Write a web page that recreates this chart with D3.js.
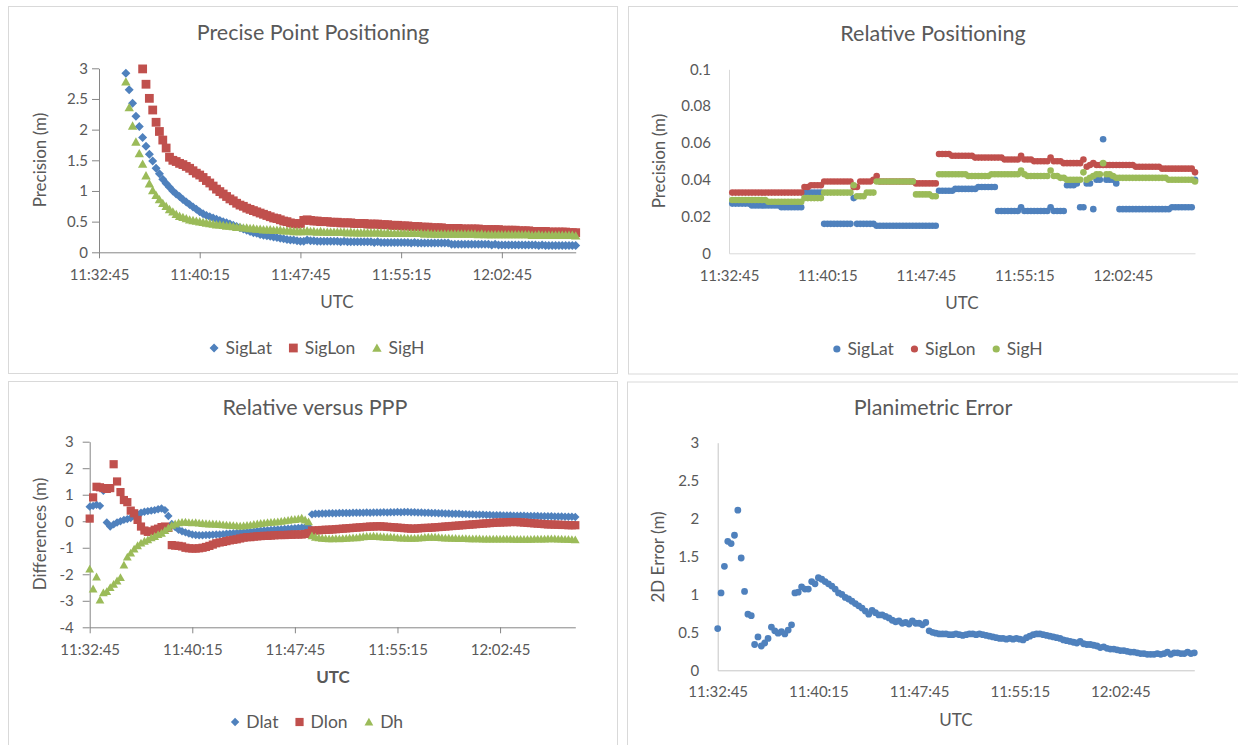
<!DOCTYPE html>
<html><head><meta charset="utf-8">
<script src="https://cdn.jsdelivr.net/npm/d3@7"></script>
<style>
html,body{margin:0;padding:0;background:#fff;}
svg{display:block;}
text{font-family:Lato,"Open Sans",sans-serif;fill:#595959;}
</style></head><body>
<svg id="chart" width="1238" height="745"></svg>
<script>
// ---------------- DATA ----------------
// samples every 15 s starting at SAMPLE_START
const SAMPLE_START = "11:32:45";
const SAMPLE_STEP_SECONDS = 15;
const X_AXIS_START = "11:32:45";
const X_AXIS_END = "12:08:15";
const X_TICK_LABELS = ["11:32:45","11:40:15","11:47:45","11:55:15","12:02:45"];

// Precise Point Positioning (m)
const PPP_SIGLAT = [null,null,null,null,null,null,null,null,2.92,2.65,
2.43,2.22,2.05,1.87,1.73,1.60,1.49,1.37,1.28,1.19,
1.12,1.06,1.00,0.95,0.91,0.86,0.82,0.78,0.74,0.70,
0.66,0.63,0.60,0.58,0.56,0.54,0.52,0.50,0.48,0.46,
0.44,0.42,0.40,0.38,0.36,0.34,0.32,0.31,0.29,0.28,
0.27,0.26,0.25,0.24,0.23,0.22,0.21,0.20,0.20,0.19,
0.18,0.18,0.20,0.19,0.19,0.18,0.18,0.18,0.18,0.18,
0.18,0.18,0.17,0.18,0.17,0.17,0.17,0.17,0.17,0.17,
0.17,0.17,0.16,0.17,0.16,0.16,0.16,0.16,0.16,0.16,
0.16,0.16,0.16,0.15,0.16,0.15,0.15,0.15,0.15,0.15,
0.15,0.15,0.15,0.15,0.15,0.13,0.13,0.13,0.13,0.13,
0.13,0.13,0.13,0.13,0.13,0.13,0.13,0.12,0.13,0.12,
0.12,0.12,0.12,0.12,0.12,0.12,0.12,0.12,0.12,0.12,
0.12,0.11,0.12,0.11,0.11,0.11,0.11,0.11,0.11,0.11,
0.11,0.11,0.11];
const PPP_SIGLON = [null,null,null,null,null,null,null,null,null,null,
null,null,null,2.99,2.74,2.51,2.32,2.12,1.97,1.83,
1.70,1.55,1.50,1.48,1.45,1.43,1.40,1.37,1.33,1.29,
1.26,1.22,1.17,1.13,1.08,1.03,0.99,0.95,0.91,0.87,
0.84,0.80,0.77,0.75,0.72,0.70,0.68,0.66,0.64,0.62,
0.60,0.58,0.56,0.55,0.53,0.51,0.50,0.48,0.47,0.46,
0.47,0.52,0.53,0.52,0.51,0.51,0.50,0.50,0.50,0.49,
0.49,0.49,0.48,0.48,0.48,0.48,0.47,0.47,0.47,0.47,
0.46,0.46,0.46,0.46,0.45,0.45,0.45,0.44,0.44,0.44,
0.43,0.43,0.43,0.42,0.42,0.42,0.41,0.41,0.41,0.40,
0.40,0.40,0.40,0.39,0.39,0.39,0.39,0.39,0.38,0.38,
0.38,0.38,0.38,0.38,0.37,0.37,0.37,0.37,0.37,0.37,
0.36,0.36,0.36,0.36,0.36,0.35,0.35,0.35,0.35,0.34,
0.34,0.34,0.34,0.34,0.33,0.33,0.33,0.33,0.33,0.33,
0.32,0.32,0.32];
const PPP_SIGH = [null,null,null,null,null,null,null,null,2.78,2.36,
2.06,1.80,1.61,1.44,1.25,1.12,1.01,0.93,0.86,0.80,
0.75,0.70,0.66,0.62,0.59,0.57,0.55,0.53,0.52,0.51,
0.50,0.49,0.48,0.47,0.46,0.45,0.45,0.44,0.43,0.43,
0.42,0.41,0.41,0.40,0.40,0.39,0.39,0.38,0.38,0.37,
0.37,0.37,0.36,0.36,0.36,0.35,0.35,0.35,0.34,0.34,
0.34,0.34,0.35,0.34,0.34,0.33,0.34,0.33,0.33,0.33,
0.33,0.33,0.33,0.33,0.32,0.33,0.32,0.32,0.32,0.32,
0.32,0.32,0.32,0.32,0.32,0.31,0.32,0.31,0.31,0.31,
0.31,0.31,0.31,0.31,0.31,0.31,0.31,0.30,0.31,0.30,
0.30,0.30,0.30,0.30,0.30,0.30,0.30,0.30,0.30,0.30,
0.30,0.30,0.30,0.29,0.30,0.29,0.29,0.29,0.29,0.29,
0.29,0.29,0.29,0.29,0.29,0.29,0.29,0.29,0.29,0.28,
0.28,0.29,0.28,0.28,0.28,0.28,0.28,0.28,0.28,0.28,
0.28,0.28,0.27];

// Relative Positioning (m)
const REL_SIGLAT = [null,0.027,0.027,0.027,0.027,0.027,0.027,0.026,0.026,0.026,
0.026,0.026,0.026,0.026,0.026,0.026,0.025,0.025,0.025,0.025,
0.025,0.025,0.025,0.033,0.033,0.033,0.033,0.033,0.033,0.016,
0.016,0.016,0.016,0.016,0.016,0.016,0.016,0.016,0.030,0.016,
0.016,0.016,0.016,0.016,0.016,0.015,0.015,0.015,0.015,0.015,
0.015,0.015,0.015,0.015,0.015,0.015,0.015,0.015,0.015,0.015,
0.015,0.015,0.015,0.015,0.034,0.034,0.034,0.034,0.034,0.035,
0.035,0.035,0.035,0.035,0.035,0.035,0.036,0.036,0.036,0.036,
0.036,0.036,0.023,0.023,0.023,0.023,0.023,0.023,0.023,0.025,
0.023,0.023,0.023,0.023,0.023,0.023,0.023,0.023,0.025,0.023,
0.023,0.023,0.023,0.037,0.037,0.037,0.038,0.025,0.025,0.038,
0.038,0.024,0.040,0.040,0.062,0.040,0.040,0.040,0.038,0.024,
0.024,0.024,0.024,0.024,0.024,0.024,0.024,0.024,0.024,0.024,
0.024,0.024,0.024,0.024,0.024,0.025,0.025,0.025,0.025,0.025,
0.025,0.025,0.040];
const REL_SIGLON = [null,0.033,0.033,0.033,0.033,0.033,0.033,0.033,0.033,0.033,
0.033,0.033,0.033,0.033,0.033,0.033,0.033,0.033,0.033,0.033,
0.033,0.033,0.033,0.036,0.036,0.037,0.037,0.037,0.037,0.039,
0.039,0.039,0.039,0.039,0.039,0.039,0.039,0.039,0.036,0.036,
0.039,0.039,0.039,0.039,0.040,0.042,0.039,0.039,0.039,0.039,
0.039,0.039,0.039,0.039,0.039,0.039,0.039,0.038,0.038,0.038,
0.038,0.038,0.038,0.038,0.054,0.054,0.054,0.054,0.053,0.053,
0.053,0.053,0.053,0.053,0.053,0.052,0.052,0.052,0.052,0.052,
0.052,0.052,0.052,0.052,0.051,0.051,0.051,0.051,0.051,0.053,
0.051,0.051,0.051,0.050,0.050,0.050,0.050,0.050,0.052,0.050,
0.050,0.050,0.049,0.049,0.049,0.049,0.049,0.049,0.051,0.047,
0.048,0.049,0.048,0.048,0.048,0.048,0.048,0.048,0.048,0.048,
0.048,0.048,0.048,0.048,0.047,0.047,0.047,0.047,0.047,0.047,
0.047,0.047,0.046,0.046,0.046,0.046,0.046,0.046,0.046,0.046,
0.046,0.046,0.044];
const REL_SIGH = [null,0.029,0.029,0.029,0.029,0.029,0.029,0.029,0.029,0.029,
0.029,0.029,0.028,0.028,0.028,0.028,0.028,0.028,0.028,0.028,
0.028,0.028,0.028,0.030,0.030,0.030,0.030,0.030,0.030,0.033,
0.033,0.033,0.033,0.033,0.033,0.033,0.033,0.033,0.037,0.031,
0.031,0.031,0.033,0.033,0.033,0.039,0.039,0.039,0.039,0.039,
0.039,0.039,0.039,0.039,0.039,0.039,0.039,0.032,0.032,0.032,
0.032,0.032,0.031,0.031,0.043,0.043,0.043,0.043,0.043,0.043,
0.043,0.043,0.043,0.042,0.042,0.042,0.042,0.042,0.042,0.042,
0.043,0.043,0.043,0.043,0.043,0.043,0.043,0.043,0.043,0.045,
0.043,0.042,0.042,0.042,0.042,0.042,0.042,0.042,0.045,0.042,
0.042,0.041,0.041,0.040,0.040,0.040,0.040,0.040,0.044,0.040,
0.041,0.042,0.043,0.043,0.049,0.043,0.043,0.042,0.041,0.041,
0.041,0.041,0.041,0.041,0.041,0.041,0.041,0.041,0.041,0.041,
0.041,0.041,0.041,0.041,0.040,0.040,0.040,0.040,0.040,0.040,
0.040,0.040,0.039];

// Relative versus PPP differences (m)
const DIFF_DLAT = [0.55,0.58,0.62,0.58,1.15,-0.05,-0.20,-0.12,-0.05,0.00,
0.05,0.08,0.12,0.20,0.27,0.32,0.36,0.38,0.40,0.42,
0.45,0.48,0.42,0.20,-0.10,-0.22,-0.32,-0.38,-0.42,-0.46,
-0.50,-0.52,-0.53,-0.53,-0.52,-0.52,-0.51,-0.50,-0.50,-0.49,
-0.47,-0.46,-0.45,-0.44,-0.43,-0.42,-0.41,-0.40,-0.39,-0.37,
-0.36,-0.35,-0.34,-0.33,-0.32,-0.31,-0.30,-0.29,-0.28,-0.27,
-0.26,-0.25,-0.24,-0.22,-0.21,0.26,0.28,0.28,0.29,0.29,
0.30,0.30,0.30,0.31,0.31,0.31,0.31,0.32,0.32,0.32,
0.32,0.33,0.32,0.33,0.33,0.33,0.34,0.33,0.34,0.34,
0.35,0.34,0.35,0.35,0.34,0.34,0.33,0.33,0.32,0.32,
0.31,0.31,0.30,0.30,0.29,0.29,0.28,0.28,0.28,0.27,
0.27,0.26,0.26,0.25,0.25,0.25,0.24,0.24,0.23,0.23,
0.23,0.22,0.22,0.22,0.21,0.21,0.21,0.21,0.20,0.20,
0.20,0.20,0.19,0.19,0.19,0.19,0.18,0.18,0.18,0.17,
0.17,0.17,0.16];
const DIFF_DLON = [0.10,0.90,1.30,1.28,1.25,1.22,1.25,2.15,1.50,1.10,
0.80,0.72,0.40,0.30,0.05,-0.20,-0.35,-0.40,-0.38,-0.32,
-0.28,-0.22,-0.20,-0.25,-0.90,-0.92,-0.93,-0.95,-1.00,-1.02,
-1.03,-1.03,-1.02,-1.00,-0.97,-0.93,-0.88,-0.83,-0.80,-0.78,
-0.75,-0.72,-0.70,-0.68,-0.65,-0.62,-0.60,-0.60,-0.58,-0.57,
-0.56,-0.55,-0.55,-0.54,-0.53,-0.52,-0.52,-0.52,-0.51,-0.51,
-0.50,-0.50,-0.50,-0.48,-0.45,-0.35,-0.35,-0.34,-0.33,-0.32,
-0.32,-0.31,-0.30,-0.29,-0.28,-0.27,-0.26,-0.25,-0.24,-0.23,
-0.22,-0.21,-0.20,-0.20,-0.19,-0.19,-0.20,-0.21,-0.22,-0.23,
-0.24,-0.25,-0.26,-0.27,-0.28,-0.28,-0.27,-0.26,-0.25,-0.25,
-0.24,-0.23,-0.22,-0.21,-0.20,-0.19,-0.18,-0.17,-0.16,-0.15,
-0.14,-0.13,-0.12,-0.11,-0.10,-0.09,-0.08,-0.07,-0.06,-0.05,
-0.05,-0.04,-0.04,-0.03,-0.03,-0.03,-0.04,-0.05,-0.06,-0.07,
-0.08,-0.09,-0.10,-0.11,-0.12,-0.12,-0.13,-0.13,-0.14,-0.14,
-0.15,-0.15,-0.15];
const DIFF_DH = [-1.80,-2.55,-2.10,-2.97,-2.70,-2.65,-2.50,-2.38,-2.25,-2.12,
-1.65,-1.35,-1.20,-1.05,-0.92,-0.82,-0.75,-0.70,-0.62,-0.57,
-0.50,-0.45,-0.35,-0.25,-0.15,-0.10,-0.06,-0.04,-0.03,-0.05,
-0.06,-0.05,-0.07,-0.08,-0.09,-0.10,-0.10,-0.11,-0.12,-0.13,
-0.14,-0.15,-0.16,-0.17,-0.18,-0.17,-0.15,-0.14,-0.12,-0.10,
-0.08,-0.07,-0.05,-0.04,-0.03,-0.02,0.00,0.02,0.04,0.06,
0.07,0.09,0.12,0.05,-0.02,-0.55,-0.60,-0.62,-0.64,-0.65,
-0.66,-0.66,-0.65,-0.66,-0.65,-0.64,-0.63,-0.62,-0.62,-0.60,
-0.58,-0.57,-0.57,-0.56,-0.57,-0.58,-0.59,-0.60,-0.60,-0.61,
-0.62,-0.63,-0.63,-0.64,-0.64,-0.64,-0.63,-0.62,-0.61,-0.60,
-0.60,-0.60,-0.61,-0.62,-0.63,-0.63,-0.64,-0.64,-0.65,-0.65,
-0.65,-0.66,-0.66,-0.66,-0.66,-0.67,-0.67,-0.67,-0.67,-0.67,
-0.67,-0.67,-0.67,-0.67,-0.68,-0.68,-0.68,-0.68,-0.68,-0.68,
-0.67,-0.67,-0.67,-0.67,-0.66,-0.66,-0.66,-0.67,-0.67,-0.68,
-0.68,-0.69,-0.70];

// Planimetric 2D error (m)
const ERR_2D = [0.55,1.02,1.37,1.70,1.67,1.78,2.11,1.48,1.04,0.74,
0.72,0.34,0.44,0.32,0.36,0.42,0.57,0.52,0.49,0.51,
0.48,0.53,0.60,1.02,1.03,1.10,1.07,1.07,1.17,1.14,
1.22,1.20,1.17,1.14,1.11,1.07,1.02,1.00,0.96,0.94,
0.91,0.88,0.85,0.82,0.78,0.74,0.79,0.76,0.73,0.73,
0.71,0.69,0.66,0.64,0.65,0.62,0.63,0.61,0.65,0.62,
0.62,0.60,0.63,0.52,0.50,0.49,0.48,0.48,0.48,0.47,
0.47,0.48,0.47,0.46,0.47,0.48,0.48,0.47,0.48,0.47,
0.46,0.45,0.44,0.43,0.42,0.42,0.41,0.42,0.41,0.42,
0.41,0.40,0.43,0.45,0.47,0.48,0.48,0.47,0.46,0.45,
0.44,0.43,0.42,0.40,0.39,0.38,0.37,0.36,0.38,0.35,
0.34,0.34,0.33,0.32,0.30,0.31,0.29,0.28,0.28,0.27,
0.26,0.26,0.25,0.24,0.24,0.23,0.22,0.22,0.21,0.21,
0.21,0.22,0.21,0.22,0.24,0.21,0.23,0.23,0.22,0.22,
0.24,0.22,0.23];

// axis ticks
const PPP_Y_TICKS = [0,0.5,1,1.5,2,2.5,3];
const REL_Y_TICKS = [0,0.02,0.04,0.06,0.08,0.1];
const DIFF_Y_TICKS = [-4,-3,-2,-1,0,1,2,3];
const ERR_Y_TICKS = [0,0.5,1,1.5,2,2.5,3];

// ---------------- STYLE / LAYOUT ----------------
const BLUE = "#4f81bd", RED = "#c0504d", GREEN = "#9bbb59";
const TEXT = "#595959";
const FS_TITLE = 21.5, FS_TICK = 15, FS_AXTITLE = 17, FS_LEGEND = 17.5;

const SHAPES = {
  diamond: r => `M0,${-r}L${r},0L0,${r}L${-r},0Z`,
  square: r => `M${-r},${-r}H${r}V${r}H${-r}Z`,
  triangle: r => `M0,${-r}L${r*1.02},${r*0.82}L${-r*1.02},${r*0.82}Z`,
  circle: r => `M${r},0A${r},${r},0,1,1,${-r},0A${r},${r},0,1,1,${r},0Z`
};

const parseT = d3.utcParse("%H:%M:%S");
const fmtT = d3.utcFormat("%H:%M:%S");
const t0 = parseT(SAMPLE_START);
const timeAt = i => new Date(+t0 + i * SAMPLE_STEP_SECONDS * 1000);

const panels = [
  { title:"Precise Point Positioning", box:[8.5,6.5,609,367],
    plot:{left:99,right:575.7,top:68.3,bottom:252.3}, yDomain:[0,3], yTicks:PPP_Y_TICKS,
    axisColor:"#868686", tick:6, yPad:7, xPad:11,
    yTitle:"Precision (m)", yTitlePos:[40,160], titlePos:[313,32], utcPos:[337,302], utcBold:false,
    legendPos:[317,348],
    series:[{name:"SigLat",values:PPP_SIGLAT,color:BLUE,shape:"diamond",r:4.5},
            {name:"SigLon",values:PPP_SIGLON,color:RED,shape:"square",r:4.4},
            {name:"SigH",values:PPP_SIGH,color:GREEN,shape:"triangle",r:4.6}] },
  { title:"Relative Positioning", box:[628.5,6.5,620,367.5],
    plot:{left:729,right:1195,top:69.3,bottom:253.3}, yDomain:[0,0.1], yTicks:REL_Y_TICKS,
    axisColor:"#d9d9d9", tick:0, yPad:18, xPad:17,
    yTitle:"Precision (m)", yTitlePos:[659,161], titlePos:[933,33], utcPos:[962,303], utcBold:false,
    legendPos:[938,349],
    series:[{name:"SigLat",values:REL_SIGLAT,color:BLUE,shape:"circle",r:3.3},
            {name:"SigLon",values:REL_SIGLON,color:RED,shape:"circle",r:3.3},
            {name:"SigH",values:REL_SIGH,color:GREEN,shape:"circle",r:3.3}] },
  { title:"Relative versus PPP", box:[8.5,381.5,609,380],
    plot:{left:89.7,right:575.3,top:441.7,bottom:627.3}, yDomain:[-4,3], yTicks:DIFF_Y_TICKS,
    axisColor:"#868686", tick:6, yPad:12, xPad:11.4,
    yTitle:"Differences (m)", yTitlePos:[40,534], titlePos:[315,407], utcPos:[333,677], utcBold:true,
    legendPos:[317,722],
    series:[{name:"Dlat",values:DIFF_DLAT,color:BLUE,shape:"diamond",r:4.2},
            {name:"Dlon",values:DIFF_DLON,color:RED,shape:"square",r:4.1},
            {name:"Dh",values:DIFF_DH,color:GREEN,shape:"triangle",r:4.3}] },
  { title:"Planimetric Error", box:[627.5,382,620,380],
    plot:{left:717.7,right:1194.3,top:442.7,bottom:670.3}, yDomain:[0,3], yTicks:ERR_Y_TICKS,
    axisColor:"#c6c6c6", tick:0, yPad:18.5, xPad:16,
    yTitle:"2D Error (m)", yTitlePos:[658,557], titlePos:[933,407], utcPos:[956,720], utcBold:false,
    legendPos:null,
    series:[{name:"2D Error",values:ERR_2D,color:BLUE,shape:"circle",r:3.4}] }
];

const svg = d3.select("#chart");

function styleAxis(ax, color) {
  ax.attr("font-family", null).attr("font-size", null);
  ax.select(".domain").attr("stroke", color);
  ax.selectAll(".tick line").attr("stroke", color);
  ax.selectAll(".tick text").attr("fill", TEXT).style("font-size", FS_TICK + "px");
}

panels.forEach(p => {
  const g = svg.append("g");
  g.append("rect").attr("x", p.box[0]).attr("y", p.box[1]).attr("width", p.box[2]).attr("height", p.box[3])
    .attr("fill", "#fff").attr("stroke", "#d9d9d9").attr("stroke-width", 1);

  const x = d3.scaleUtc().domain([parseT(X_AXIS_START), parseT(X_AXIS_END)]).range([p.plot.left, p.plot.right]);
  const y = d3.scaleLinear().domain(p.yDomain).range([p.plot.bottom, p.plot.top]);

  const xAxis = d3.axisBottom(x).tickValues(X_TICK_LABELS.map(parseT)).tickFormat(fmtT)
    .tickSize(p.tick).tickSizeOuter(0).tickPadding(p.tick ? p.xPad : p.xPad);
  const yAxis = d3.axisLeft(y).tickValues(p.yTicks).tickFormat(v => String(v))
    .tickSize(p.tick ? p.tick + 1 : 0).tickSizeOuter(0).tickPadding(p.yPad - (p.tick ? 1 : 0) + (p.tick ? -2 : 0));

  const gy = g.append("g").attr("transform", `translate(${p.plot.left},0)`).call(yAxis);
  styleAxis(gy, p.axisColor);
  const gx = g.append("g").attr("transform", `translate(0,${p.plot.bottom})`).call(xAxis);
  styleAxis(gx, p.axisColor);

  // series
  p.series.forEach(s => {
    const pts = s.values.map((v, i) => ({t: timeAt(i), v})).filter(d => d.v !== null);
    g.append("g").selectAll("path").data(pts).join("path")
      .attr("d", SHAPES[s.shape](s.r))
      .attr("transform", d => `translate(${x(d.t)},${y(d.v)})`)
      .attr("fill", s.color);
  });

  // titles
  g.append("text").attr("x", p.titlePos[0]).attr("y", p.titlePos[1]).attr("dy", "0.35em")
    .attr("text-anchor", "middle").style("font-size", FS_TITLE + "px").text(p.title);
  g.append("text").attr("x", p.utcPos[0]).attr("y", p.utcPos[1]).attr("dy", "0.35em")
    .attr("text-anchor", "middle").style("font-size", FS_AXTITLE + "px")
    .style("font-weight", p.utcBold ? "bold" : "normal").text("UTC");
  g.append("text").attr("transform", `translate(${p.yTitlePos[0]},${p.yTitlePos[1]}) rotate(-90)`)
    .attr("dy", "0.35em").attr("text-anchor", "middle").style("font-size", FS_AXTITLE + "px").text(p.yTitle);

  // legend
  if (p.legendPos) {
    const lg = g.append("g");
    let cur = 0;
    p.series.forEach(s => {
      const r = s.shape === "circle" ? 3.6 : s.r;
      const ig = lg.append("g").attr("transform", `translate(${cur},0)`);
      ig.append("path").attr("d", SHAPES[s.shape](r)).attr("transform", `translate(${r},0)`).attr("fill", s.color);
      const tx = ig.append("text").attr("x", 2 * r + 7).attr("dy", "0.35em")
        .style("font-size", FS_LEGEND + "px").text(s.name);
      cur += 2 * r + 7 + tx.node().getComputedTextLength() + 17;
    });
    const total = cur - 17;
    lg.attr("transform", `translate(${p.legendPos[0] - total / 2},${p.legendPos[1]})`);
  }
});
</script>
</body></html>
